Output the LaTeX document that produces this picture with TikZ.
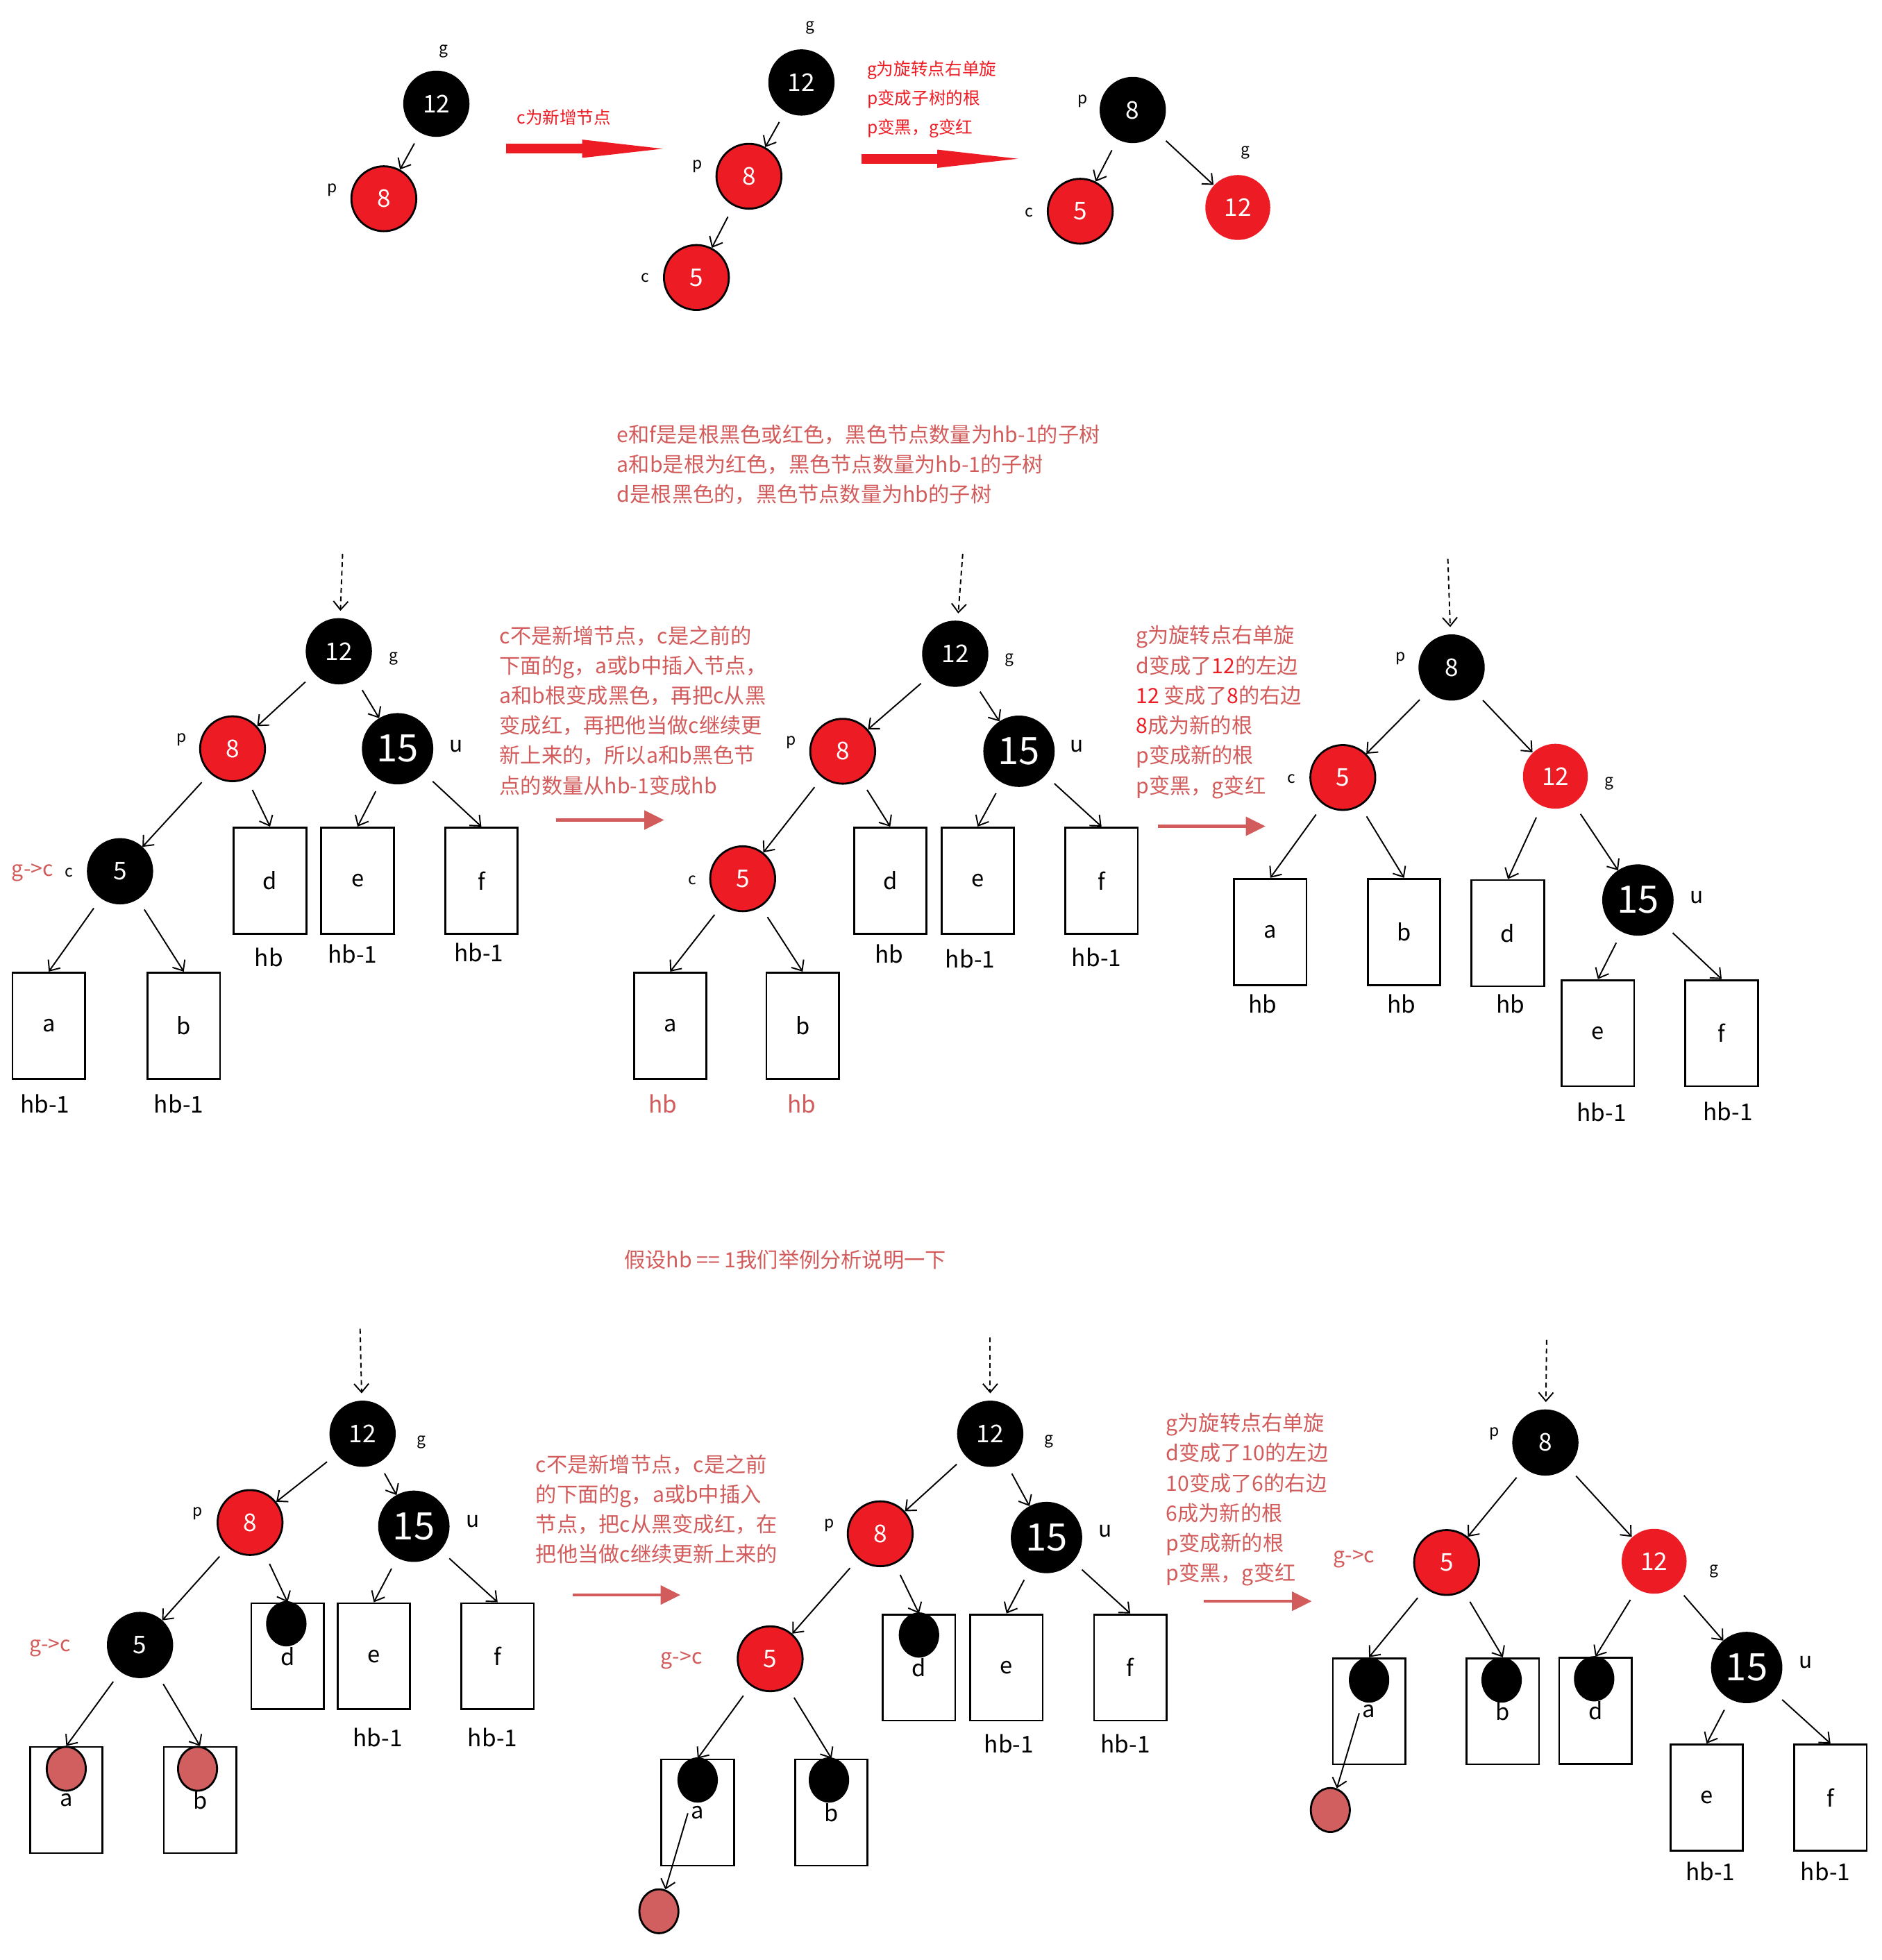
\documentclass[tikz,border=0pt]{standalone}
\usepackage{fontspec}
\setmainfont{Noto Sans CJK SC}
\usetikzlibrary{arrows.meta, shapes.geometric}
\definecolor{NodeRed}{HTML}{ED1C24}
\definecolor{NoteRed}{HTML}{D25B5B}
\definecolor{DotRed}{HTML}{D25F5F}

\begin{document}
\begin{tikzpicture}[x=0.18007mm, y=-0.18007mm, line width=0.55pt,
    >={Straight Barb[length=3.5pt,width=6pt]},
    blk/.style={circle, fill=black, draw=black, text=white, inner sep=0pt, minimum size=26.6pt, font=\fontsize{10}{10}\selectfont},
    rd/.style={blk, fill=NodeRed, line width=0.8pt},
    rdplain/.style={blk, fill=NodeRed, draw=none},
    bigblk/.style={blk, minimum size=28.7pt, font=\fontsize{15.5}{15.5}\selectfont},
    subtree/.style={draw, line width=0.8pt, minimum width=29.7pt, minimum height=43.5pt, inner sep=0pt, font=\fontsize{9.3}{9.3}\selectfont},
    ball/.style={ellipse, fill=black, draw=black, inner sep=0pt, minimum width=16pt, minimum height=18pt},
    redball/.style={ball, fill=DotRed, line width=0.8pt},
    tag/.style={font=\fontsize{6.5}{6.5}\selectfont, inner sep=0pt},
    utag/.style={font=\fontsize{9}{9}\selectfont, inner sep=0pt},
    hbtag/.style={font=\fontsize{9.5}{9.5}\selectfont, inner sep=0pt},
    gc/.style={text=NoteRed, font=\fontsize{8.6}{8.6}\selectfont, inner sep=0pt},
    note/.style={text=NoteRed, font=\fontsize{8.6}{12.3}\selectfont, align=left, anchor=north west, inner sep=0pt},
    topnote/.style={note, text=NodeRed, font=\fontsize{7}{12}\selectfont},
    link/.style={->, shorten <=5pt},
    entry/.style={->, dash pattern=on 2pt off 1.5pt, shorten >=3pt},
    bigmove/.style={draw=NodeRed, line width=4pt, -{Triangle[length=33pt,width=7.5pt,line width=0pt]}},
    nextmove/.style={draw=NoteRed, line width=1.2pt, -{Triangle[length=8pt,width=8pt,line width=0pt]}}]
  \useasboundingbox (0,0) rectangle (1505,1568);

  % Top row: c is new
  \node[blk] (T1g) at (349,83) {12};
  \node[rd] (T1p) at (307,159) {8};
  \node[tag] (T1g-l) at (355,41) {g};
  \node[tag] (T1p-l) at (266,152) {p};
  \draw[link] (T1g) -- (T1p);

  \node[topnote, anchor=center] (T1n) at (451,94) {c为新增节点};
  \coordinate (T1s) at (405,119);
  \coordinate (T1e) at (530,119);
  \draw[bigmove] (T1s) -- (T1e);

  \node[blk] (T2g) at (641,66) {12};
  \node[rd] (T2p) at (599,141) {8};
  \node[rd] (T2c) at (557,222) {5};
  \node[tag] (T2g-l) at (648,22) {g};
  \node[tag] (T2p-l) at (558,133) {p};
  \node[tag] (T2c-l) at (516,222) {c};
  \draw[link] (T2g) -- (T2p);
  \draw[link] (T2p) -- (T2c);

  \node[topnote] (T2n) at (693,48) {g为旋转点右单旋\\p变成子树的根\\p变黑，g变红};
  \coordinate (T2s) at (689,127);
  \coordinate (T2e) at (814,127);
  \draw[bigmove] (T2s) -- (T2e);

  \node[blk] (T3p) at (906,88) {8};
  \node[rd] (T3c) at (864,169) {5};
  \node[rdplain] (T3g) at (990,166) {12};
  \node[tag] (T3p-l) at (866,81) {p};
  \node[tag] (T3c-l) at (823,170) {c};
  \node[tag] (T3g-l) at (996,122) {g};
  \draw[link] (T3p) -- (T3c);
  \draw[link] (T3p) -- (T3g);

  \node[note] (Mn) at (493,339) {e和f是是根黑色或红色，黑色节点数量为hb-1的子树\\a和b是根为红色，黑色节点数量为hb-1的子树\\d是根黑色的，黑色节点数量为hb的子树};

  % Middle row, tree A
  \coordinate (Atop) at (274,443);
  \node[blk] (Ag) at (271,521) {12};
  \node[rd] (Ap) at (186,599) {8};
  \node[bigblk] (Au) at (318,599) {15};
  \node[blk] (Ac) at (96,697) {5};
  \node[subtree] (Ad) at (216,704.5) {d};
  \node[subtree] (Ae) at (286,704.5) {e};
  \node[subtree] (Af) at (385,704.5) {f};
  \node[subtree] (Aa) at (39,820.5) {a};
  \node[subtree] (Ab) at (147,820.5) {b};
  \node[tag] (Ag-l) at (315,527) {g};
  \node[tag] (Ap-l) at (145,592) {p};
  \node[utag] (Au-l) at (365,597) {u};
  \node[tag] (Ac-l) at (55,698) {c};
  \node[gc] (Ac-gc) at (26,698) {g->c};
  \node[hbtag] (Ad-h) at (215,766) {hb};
  \node[hbtag] (Ae-h) at (282,763) {hb-1};
  \node[hbtag] (Af-h) at (383,762) {hb-1};
  \node[hbtag] (Aa-h) at (36,883) {hb-1};
  \node[hbtag] (Ab-h) at (143,883) {hb-1};
  \draw[entry] (Atop) -- (Ag);
  \draw[link] (Ag) -- (Ap);
  \draw[link] (Ag) -- (Au);
  \draw[link] (Ap) -- (Ac);
  \draw[link] (Ap) -- (Ad.north);
  \draw[link] (Au) -- (Ae.north);
  \draw[link] (Au) -- (Af.north);
  \draw[link] (Ac) -- (Aa.north);
  \draw[link] (Ac) -- (Ab.north);

  \node[note] (ABn) at (399,500) {c不是新增节点，c是之前的\\下面的g，a或b中插入节点，\\a和b根变成黑色，再把c从黑\\变成红，再把他当做c继续更\\新上来的，所以a和b黑色节\\点的数量从hb-1变成hb};
  \coordinate (ABs) at (445,656);
  \coordinate (ABe) at (531,656);
  \draw[nextmove] (ABs) -- (ABe);

  % Middle row, tree B
  \coordinate (Btop) at (770,443);
  \node[blk] (Bg) at (764,523) {12};
  \node[rd] (Bp) at (674,601) {8};
  \node[bigblk] (Bu) at (815,601) {15};
  \node[rd] (Bc) at (594,703) {5};
  \node[subtree] (Bd) at (712,704.5) {d};
  \node[subtree] (Be) at (782,704.5) {e};
  \node[subtree] (Bf) at (881,704.5) {f};
  \node[subtree] (Ba) at (536,820.5) {a};
  \node[subtree] (Bb) at (642,820.5) {b};
  \node[tag] (Bg-l) at (807,528) {g};
  \node[tag] (Bp-l) at (633,594) {p};
  \node[utag] (Bu-l) at (861,597) {u};
  \node[tag] (Bc-l) at (554,704) {c};
  \node[hbtag] (Bd-h) at (711,763) {hb};
  \node[hbtag] (Be-h) at (776,767) {hb-1};
  \node[hbtag] (Bf-h) at (877,766) {hb-1};
  \node[hbtag, text=NoteRed] (Ba-h) at (530,883) {hb};
  \node[hbtag, text=NoteRed] (Bb-h) at (641,883) {hb};
  \draw[entry] (Btop) -- (Bg);
  \draw[link] (Bg) -- (Bp);
  \draw[link] (Bg) -- (Bu);
  \draw[link] (Bp) -- (Bc);
  \draw[link] (Bp) -- (Bd.north);
  \draw[link] (Bu) -- (Be.north);
  \draw[link] (Bu) -- (Bf.north);
  \draw[link] (Bc) -- (Ba.north);
  \draw[link] (Bc) -- (Bb.north);

  \node[note] (BCn) at (908,500) {g为旋转点右单旋\\d变成了{\color{NodeRed}12}的左边\\{\color{NodeRed}12} 变成了{\color{NodeRed}8}的右边\\{\color{NodeRed}8}成为新的根\\p变成新的根\\p变黑，g变红};
  \coordinate (BCs) at (926,661);
  \coordinate (BCe) at (1012,661);
  \draw[nextmove] (BCs) -- (BCe);

  % Middle row, tree C
  \coordinate (Ctop) at (1158,447);
  \node[blk] (Cp) at (1161,534) {8};
  \node[rd] (Cc) at (1074,622) {5};
  \node[rdplain] (Cg) at (1244,621) {12};
  \node[bigblk] (Cu) at (1310,720) {15};
  \node[subtree] (Ca) at (1016,745.5) {a};
  \node[subtree] (Cb) at (1123,745.5) {b};
  \node[subtree] (Cd) at (1206,746.5) {d};
  \node[subtree] (Ce) at (1278,826.5) {e};
  \node[subtree] (Cf) at (1377,826.5) {f};
  \node[tag] (Cp-l) at (1120,527) {p};
  \node[tag] (Cc-l) at (1033,623) {c};
  \node[tag] (Cg-l) at (1287,627) {g};
  \node[utag] (Cu-l) at (1357,718) {u};
  \node[hbtag] (Ca-h) at (1010,803) {hb};
  \node[hbtag] (Cb-h) at (1121,803) {hb};
  \node[hbtag] (Cd-h) at (1208,803) {hb};
  \node[hbtag] (Ce-h) at (1281,890) {hb-1};
  \node[hbtag] (Cf-h) at (1382,889) {hb-1};
  \draw[entry] (Ctop) -- (Cp);
  \draw[link] (Cp) -- (Cc);
  \draw[link] (Cp) -- (Cg);
  \draw[link] (Cc) -- (Ca.north);
  \draw[link] (Cc) -- (Cb.north);
  \draw[link] (Cg) -- (Cd.north);
  \draw[link] (Cg) -- (Cu);
  \draw[link] (Cu) -- (Ce.north);
  \draw[link] (Cu) -- (Cf.north);

  \node[gc, anchor=center] (Xn) at (628,1008) {假设hb == 1我们举例分析说明一下};

  % Bottom row, tree D
  \coordinate (Dtop) at (288,1063);
  \node[blk] (Dg) at (290,1147) {12};
  \node[rd] (Dp) at (200,1218) {8};
  \node[bigblk] (Du) at (331,1221) {15};
  \node[blk] (Dc) at (112,1316) {5};
  \node[subtree] (Dd) at (230,1325) {d};
  \node[subtree] (De) at (299,1325) {e};
  \node[subtree] (Df) at (398,1325) {f};
  \node[subtree] (Da) at (53,1440) {a};
  \node[subtree] (Db) at (160,1440) {b};
  \node[ball] (Dds) at (229,1299) {};
  \node[redball] (Das) at (53,1415) {};
  \node[redball] (Dbs) at (158,1415) {};
  \node[tag] (Dg-l) at (337,1154) {g};
  \node[tag] (Dp-l) at (158,1211) {p};
  \node[utag] (Du-l) at (378,1217) {u};
  \node[gc] (Dc-gc) at (40,1318) {g->c};
  \node[hbtag] (De-h) at (302,1390) {hb-1};
  \node[hbtag] (Df-h) at (394,1390) {hb-1};
  \draw[entry] (Dtop) -- (Dg);
  \draw[link] (Dg) -- (Dp);
  \draw[link] (Dg) -- (Du);
  \draw[link] (Dp) -- (Dc);
  \draw[link] (Dp) -- (Dd.north);
  \draw[link] (Du) -- (De.north);
  \draw[link] (Du) -- (Df.north);
  \draw[link] (Dc) -- (Da.north);
  \draw[link] (Dc) -- (Db.north);

  \node[note] (DEn) at (428,1163) {c不是新增节点，c是之前\\的下面的g，a或b中插入\\节点，把c从黑变成红，在\\把他当做c继续更新上来的};
  \coordinate (DEs) at (458,1276);
  \coordinate (DEe) at (544,1276);
  \draw[nextmove] (DEs) -- (DEe);

  % Bottom row, tree E
  \coordinate (Etop) at (792,1070);
  \node[blk] (Eg) at (792,1147) {12};
  \node[rd] (Ep) at (704,1227) {8};
  \node[bigblk] (Eu) at (837,1230) {15};
  \node[rd] (Ec) at (616,1327) {5};
  \node[subtree] (Ed) at (735,1334) {d};
  \node[subtree] (Ee) at (805,1334) {e};
  \node[subtree] (Ef) at (904,1334) {f};
  \node[subtree] (Ea) at (558,1450) {a};
  \node[subtree] (Eb) at (665,1450) {b};
  \node[ball] (Eds) at (735,1308) {};
  \node[ball] (Eas) at (558,1424) {};
  \node[ball] (Ebs) at (663,1424) {};
  \node[redball] (Ex) at (527,1529) {};
  \node[tag] (Eg-l) at (839,1153) {g};
  \node[tag] (Ep-l) at (663,1220) {p};
  \node[utag] (Eu-l) at (884,1225) {u};
  \node[gc] (Ec-gc) at (545,1328) {g->c};
  \node[hbtag] (Ee-h) at (807,1395) {hb-1};
  \node[hbtag] (Ef-h) at (900,1395) {hb-1};
  \draw[entry] (Etop) -- (Eg);
  \draw[link] (Eg) -- (Ep);
  \draw[link] (Eg) -- (Eu);
  \draw[link] (Ep) -- (Ec);
  \draw[link] (Ep) -- (Ed.north);
  \draw[link] (Eu) -- (Ee.north);
  \draw[link] (Eu) -- (Ef.north);
  \draw[link] (Ec) -- (Ea.north);
  \draw[link] (Ec) -- (Eb.north);
  \draw[link] (Eas) -- (Ex);

  \node[note] (EFn) at (932,1130) {g为旋转点右单旋\\d变成了10的左边\\10变成了6的右边\\6成为新的根\\p变成新的根\\p变黑，g变红};
  \coordinate (EFs) at (963,1281);
  \coordinate (EFe) at (1049,1281);
  \draw[nextmove] (EFs) -- (EFe);

  % Bottom row, tree F
  \coordinate (Ftop) at (1237,1072);
  \node[blk] (Fp) at (1236,1154) {8};
  \node[rd] (Fc) at (1157,1250) {5};
  \node[rdplain] (Fg) at (1323,1249) {12};
  \node[bigblk] (Fu) at (1397,1334) {15};
  \node[subtree] (Fa) at (1095,1369) {a};
  \node[subtree] (Fb) at (1202,1369) {b};
  \node[subtree] (Fd) at (1276,1368.5) {d};
  \node[subtree] (Fe) at (1365,1438) {e};
  \node[subtree] (Ff) at (1464,1438) {f};
  \node[ball] (Fas) at (1095,1344) {};
  \node[ball] (Fbs) at (1201,1344) {};
  \node[ball] (Fds) at (1275,1343) {};
  \node[redball] (Fx) at (1064,1448) {};
  \node[tag] (Fp-l) at (1195,1147) {p};
  \node[gc] (Fc-gc) at (1083,1247) {g->c};
  \node[tag] (Fg-l) at (1371,1257) {g};
  \node[utag] (Fu-l) at (1444,1330) {u};
  \node[hbtag] (Fe-h) at (1368,1497) {hb-1};
  \node[hbtag] (Ff-h) at (1460,1497) {hb-1};
  \draw[entry] (Ftop) -- (Fp);
  \draw[link] (Fp) -- (Fc);
  \draw[link] (Fp) -- (Fg);
  \draw[link] (Fc) -- (Fa.north);
  \draw[link] (Fc) -- (Fb.north);
  \draw[link] (Fg) -- (Fd.north);
  \draw[link] (Fg) -- (Fu);
  \draw[link] (Fu) -- (Fe.north);
  \draw[link] (Fu) -- (Ff.north);
  \draw[link] (Fas) -- (Fx);
\end{tikzpicture}
\end{document}
